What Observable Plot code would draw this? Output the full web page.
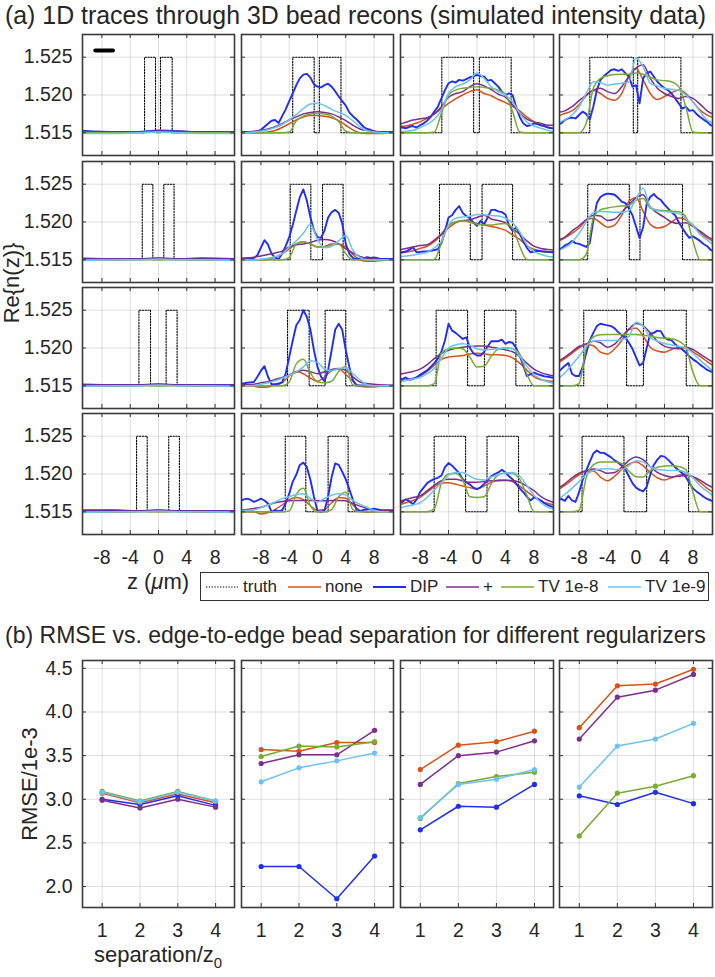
<!DOCTYPE html>
<html><head><meta charset="utf-8">
<script src="https://cdn.jsdelivr.net/npm/d3@7"></script>
<script src="https://cdn.jsdelivr.net/npm/@observablehq/plot@0.6"></script>
<style>
html,body{margin:0;padding:0;background:#fff;}
#fig{position:relative;width:715px;height:977px;overflow:hidden;font-family:"Liberation Sans",Arial,Helvetica,sans-serif;color:#262626;}
.lbl{position:absolute;white-space:nowrap;line-height:1;}
.legend{position:absolute;box-sizing:border-box;border:1px solid #333;font-size:17px;line-height:1;}
.legend .it{position:absolute;top:0;height:100%;display:flex;align-items:center;white-space:nowrap;}
.legend svg{margin-right:4px;flex:none;}
</style></head><body><div id="fig"></div>
<script>
// ---------- DATA: panel (a) ----------
const zGrid = [-11,-10,-9,-8,-7,-6,-5,-4,-3,-2,-1,0,1,2,3,4,5,6,7,8,9,10,11];
const zDip = [-11,-10.5,-10,-9.5,-9,-8.5,-8,-7.5,-7,-6.5,-6,-5.5,-5,-4.5,-4,-3.5,-3,-2.5,-2,-1.5,-1,-0.5,0,0.5,1,1.5,2,2.5,3,3.5,4,4.5,5,5.5,6,6.5,7,7.5,8,8.5,9,9.5,10,10.5,11];
const zFlat = [-11,-6,-3,0,3,6,11];
const zTicks = [-8,-4,0,4,8];
const nTicks = [1.515,1.520,1.525];
const truthLevels = [1.515, 1.525];
// bead edges [row][col] : left bead start/end, right bead start/end (um)
const truthEdges = [
  [[-1.97,-0.42,0.28,1.93],[-3.5,-0.47,0.26,3.32],[-4.94,-0.47,0.33,4.8],[-6.49,-0.38,0.24,6.31]],
  [[-2.3,-0.8,0.75,2.2],[-3.86,-0.94,0.71,3.62],[-5.27,-0.94,0.71,5.0],[-6.78,-0.94,0.56,6.54]],
  [[-2.77,-1.13,1.08,2.63],[-4.24,-1.18,1.08,4.0],[-5.74,-1.32,1.04,5.46],[-7.34,-1.32,1.04,7.06]],
  [[-3.1,-1.6,1.45,2.96],[-4.56,-1.65,1.5,4.33],[-6.02,-1.6,1.41,5.84],[-7.58,-1.69,1.5,7.39]]
];
const scaleBar = [{z:-8.94,n:1.5259},{z:-6.44,n:1.5259}];

const traceNone = [
 [[1.515,1.515,1.5151,1.5152,1.5151,1.515,1.515],
  [1.515,1.515,1.515,1.515,1.5151,1.5153,1.5157,1.5162,1.5167,1.5171,1.5173,1.5173,1.5172,1.517,1.5166,1.516,1.5154,1.515,1.5149,1.5149,1.5149,1.515,1.515],
  [1.51585,1.5159,1.51615,1.51645,1.5169,1.5175,1.5182,1.5189,1.5195,1.52,1.52045,1.5207,1.5202,1.5199,1.5194,1.519,1.5185,1.5179,1.5171,1.51645,1.516,1.5157,1.51555],
  [1.5172,1.51755,1.5179,1.5187,1.5199,1.5206,1.5202,1.51955,1.5193,1.5202,1.52245,1.5235,1.522,1.5202,1.5194,1.5198,1.5203,1.52065,1.5202,1.5191,1.518,1.51735,1.517]],
 [[1.515,1.515,1.5151,1.5151,1.5151,1.515,1.515],
  [1.515,1.515,1.515,1.515,1.51505,1.51535,1.5158,1.51645,1.5171,1.5174,1.5171,1.5167,1.51675,1.5171,1.5171,1.5167,1.5157,1.515,1.5148,1.5148,1.5149,1.515,1.515],
  [1.5159,1.516,1.5162,1.5165,1.5168,1.5174,1.5183,1.5192,1.5199,1.52015,1.52,1.5198,1.5196,1.5194,1.5192,1.5189,1.5183,1.5177,1.51685,1.5164,1.5161,1.516,1.516],
  [1.5174,1.5179,1.5185,1.5192,1.5202,1.5205,1.5199,1.5193,1.5196,1.5209,1.5227,1.5232,1.5214,1.5197,1.5192,1.5194,1.52,1.52055,1.5203,1.5196,1.5186,1.5179,1.5174]],
 [[1.515,1.515,1.5151,1.5151,1.5151,1.515,1.515],
  [1.515,1.515,1.51495,1.5148,1.51485,1.5151,1.5154,1.5163,1.5169,1.5166,1.516,1.5156,1.5162,1.517,1.5172,1.5165,1.5156,1.51495,1.51485,1.51485,1.51495,1.515,1.515],
  [1.5156,1.5158,1.516,1.5163,1.5169,1.5177,1.5185,1.5188,1.5189,1.519,1.5192,1.5193,1.51925,1.5191,1.5191,1.519,1.5187,1.518,1.5171,1.5162,1.5158,1.51565,1.5156],
  [1.518,1.5186,1.5193,1.52,1.52045,1.5203,1.51945,1.5192,1.5199,1.521,1.5224,1.5226,1.5216,1.5201,1.5196,1.51945,1.5198,1.52005,1.52005,1.5195,1.5189,1.5182,1.5176]],
 [[1.515,1.515,1.5151,1.5151,1.5151,1.515,1.515],
  [1.515,1.515,1.515,1.5147,1.5149,1.5153,1.5159,1.5166,1.5169,1.5166,1.5158,1.5152,1.5153,1.5162,1.5169,1.5168,1.5159,1.5152,1.51495,1.515,1.515,1.515,1.515],
  [1.5159,1.5162,1.5165,1.5169,1.5176,1.5183,1.5188,1.51885,1.51865,1.5184,1.5182,1.518,1.5184,1.5189,1.5192,1.5192,1.519,1.5184,1.5177,1.517,1.5164,1.5161,1.5159],
  [1.5179,1.5185,1.5192,1.5199,1.52035,1.5204,1.5196,1.5191,1.5197,1.5206,1.5213,1.5216,1.5211,1.5202,1.5195,1.5192,1.5195,1.51985,1.52,1.51965,1.5189,1.5181,1.5175]]
];

const traceDIP = [
 [[1.5153,1.5151,1.5151,1.5153,1.5152,1.5151,1.5151],
  [1.5151,1.5151,1.5151,1.5151,1.5151,1.5152,1.5154,1.5158,1.5162,1.5166,1.5167,1.5163,1.5172,1.5181,1.5192,1.5202,1.5213,1.5222,1.5227,1.5228,1.5223,1.5214,1.5211,1.521,1.5213,1.5215,1.5211,1.5205,1.5198,1.5192,1.5186,1.5177,1.5172,1.5168,1.5163,1.5158,1.5155,1.5154,1.5152,1.5151,1.5151,1.5151,1.5151,1.5151,1.5151],
  [1.5157,1.5157,1.5156,1.5158,1.5159,1.5157,1.516,1.51625,1.5166,1.5171,1.5178,1.51845,1.51955,1.52065,1.52155,1.5218,1.52165,1.522,1.5219,1.5221,1.52235,1.52245,1.52265,1.5225,1.52245,1.5219,1.522,1.52155,1.5211,1.52045,1.52,1.5202,1.52,1.51845,1.5171,1.51625,1.5159,1.516,1.51625,1.51615,1.516,1.5159,1.5157,1.5156,1.51555],
  [1.51615,1.51625,1.5167,1.5169,1.517,1.5169,1.51735,1.5178,1.5175,1.51675,1.51845,1.52065,1.522,1.5225,1.5229,1.5233,1.5234,1.5232,1.5234,1.5229,1.52245,1.5211,1.5213,1.5189,1.5222,1.5229,1.5231,1.52245,1.52175,1.5213,1.5209,1.52065,1.5202,1.51955,1.5189,1.5182,1.51845,1.5179,1.518,1.5175,1.5171,1.51675,1.51645,1.516,1.5159]],
 [[1.5152,1.5151,1.5151,1.5152,1.5151,1.5152,1.5151],
  [1.5151,1.51515,1.5152,1.51515,1.51525,1.5156,1.5166,1.5176,1.517,1.5158,1.5153,1.5151,1.5158,1.5168,1.518,1.5196,1.5215,1.5233,1.5243,1.5228,1.5206,1.5189,1.518,1.5179,1.5189,1.5206,1.5213,1.5216,1.5212,1.5198,1.5171,1.5158,1.51525,1.5151,1.5151,1.5152,1.51535,1.51525,1.5153,1.5152,1.5151,1.5151,1.5151,1.5151,1.5151],
  [1.516,1.516,1.5161,1.51635,1.51665,1.516,1.51605,1.5161,1.5161,1.5162,1.5163,1.5164,1.5172,1.5188,1.5206,1.5209,1.5216,1.5221,1.5212,1.5208,1.5205,1.5199,1.5195,1.52015,1.5197,1.5206,1.5216,1.5216,1.5214,1.5213,1.521,1.5195,1.5188,1.5193,1.5184,1.5175,1.5166,1.516,1.5161,1.5162,1.51615,1.5161,1.51605,1.516,1.516],
  [1.5164,1.5165,1.5169,1.5171,1.5175,1.5172,1.5171,1.5169,1.5167,1.5172,1.52015,1.5225,1.5233,1.5236,1.52375,1.5237,1.5236,1.5232,1.5227,1.5225,1.5218,1.5209,1.5194,1.5179,1.5193,1.5224,1.5233,1.5237,1.5232,1.5229,1.5223,1.5218,1.5213,1.5209,1.52,1.5192,1.5185,1.5179,1.5181,1.5178,1.5175,1.5171,1.5168,1.5163,1.5161]],
 [[1.5152,1.5151,1.5151,1.5152,1.5151,1.5151,1.5151],
  [1.5152,1.5153,1.5154,1.51545,1.5155,1.5162,1.517,1.5176,1.5162,1.5152,1.5152,1.5153,1.5155,1.5166,1.5188,1.521,1.523,1.5237,1.525,1.5241,1.5224,1.5197,1.5175,1.5162,1.5156,1.5171,1.5197,1.5224,1.5232,1.5224,1.5197,1.5175,1.51575,1.51505,1.51505,1.51505,1.51505,1.51505,1.51505,1.51505,1.51505,1.51505,1.51505,1.51505,1.51505],
  [1.5159,1.5159,1.5161,1.5158,1.5159,1.5161,1.51645,1.51675,1.51705,1.5175,1.518,1.5186,1.5195,1.521,1.5232,1.5223,1.522,1.5216,1.5212,1.5214,1.52,1.5193,1.519,1.519,1.5195,1.5202,1.5209,1.5209,1.5209,1.5211,1.52055,1.5208,1.5207,1.52,1.519,1.5177,1.5163,1.5165,1.51675,1.51655,1.5164,1.51625,1.5162,1.5161,1.5161],
  [1.5168,1.5172,1.51765,1.518,1.5166,1.5163,1.5163,1.5175,1.5193,1.521,1.522,1.5229,1.5232,1.5231,1.523,1.5229,1.5226,1.5221,1.5217,1.5214,1.5207,1.5199,1.5188,1.5177,1.518,1.52,1.5219,1.522,1.5223,1.5222,1.5214,1.5211,1.521,1.5205,1.5201,1.5198,1.5194,1.5189,1.5185,1.5182,1.5178,1.51745,1.5171,1.5169,1.5167]],
 [[1.5152,1.5152,1.5151,1.5152,1.5151,1.5151,1.5151],
  [1.5165,1.5166,1.51675,1.5166,1.5163,1.5165,1.51675,1.5165,1.5161,1.515,1.5152,1.5151,1.5152,1.5161,1.5174,1.519,1.5199,1.5212,1.5215,1.5209,1.5192,1.517,1.5151,1.515,1.5152,1.517,1.5196,1.5214,1.5212,1.5203,1.5193,1.518,1.5166,1.5153,1.5151,1.51525,1.5153,1.51535,1.5154,1.5153,1.5152,1.5152,1.5152,1.5152,1.5152],
  [1.5162,1.5163,1.51665,1.5164,1.516,1.5166,1.5176,1.5182,1.5188,1.5191,1.51935,1.5195,1.5198,1.5209,1.52145,1.5211,1.5206,1.5201,1.5193,1.5189,1.5186,1.5182,1.518,1.51825,1.5187,1.5192,1.5197,1.52,1.5202,1.52055,1.5202,1.5197,1.5193,1.5187,1.5181,1.5176,1.517,1.5165,1.5169,1.51675,1.5165,1.5161,1.5159,1.5157,1.5156],
  [1.5166,1.5167,1.51645,1.5171,1.5165,1.5163,1.5176,1.5192,1.52045,1.5216,1.5227,1.5231,1.5228,1.5228,1.5225,1.5222,1.5218,1.5215,1.5211,1.5206,1.5197,1.5188,1.5182,1.5179,1.5177,1.5183,1.5199,1.5212,1.5219,1.5224,1.5223,1.5219,1.5214,1.5209,1.5205,1.5201,1.5196,1.5188,1.5181,1.5177,1.51735,1.517,1.5167,1.5165,1.5164]]
];

const tracePlus = [
 [[1.5151,1.5151,1.5151,1.5152,1.5152,1.5151,1.5151],
  [1.5151,1.5151,1.5152,1.5153,1.5155,1.5158,1.5162,1.5167,1.5171,1.5175,1.5177,1.5178,1.5177,1.5175,1.5171,1.5166,1.516,1.5155,1.5153,1.5152,1.5151,1.5151,1.5151],
  [1.5161,1.5164,1.5167,1.51685,1.517,1.5175,1.51845,1.5197,1.5202,1.52045,1.5211,1.5215,1.5212,1.5207,1.5201,1.5197,1.5187,1.5176,1.5168,1.51645,1.51625,1.516,1.516],
  [1.5177,1.5179,1.51845,1.51925,1.52,1.52065,1.5209,1.52045,1.5202,1.5211,1.52245,1.52355,1.524,1.5222,1.5209,1.5202,1.5198,1.51955,1.5198,1.51955,1.5188,1.5179,1.5174]],
 [[1.5151,1.5151,1.5151,1.5152,1.5151,1.5151,1.5151],
  [1.5152,1.51525,1.51535,1.5155,1.5157,1.5159,1.51615,1.5167,1.517,1.5171,1.5173,1.5176,1.5177,1.51755,1.5171,1.51645,1.5159,1.51545,1.5152,1.5151,1.515,1.515,1.515],
  [1.5163,1.5165,1.5167,1.5169,1.517,1.5176,1.5184,1.5196,1.52,1.5202,1.5203,1.5206,1.5209,1.5204,1.5202,1.5199,1.5191,1.5184,1.5175,1.5168,1.5165,1.51635,1.5163],
  [1.5176,1.518,1.5188,1.5195,1.5203,1.5209,1.5208,1.5202,1.5204,1.5213,1.5223,1.5232,1.5236,1.522,1.5212,1.5206,1.52,1.5198,1.5199,1.5194,1.5188,1.5181,1.5176]],
 [[1.5151,1.5151,1.5151,1.5152,1.5151,1.5151,1.5151],
  [1.5151,1.51515,1.5152,1.5154,1.51555,1.51585,1.5161,1.51645,1.5168,1.51705,1.51685,1.5166,1.51685,1.51715,1.5173,1.51705,1.5162,1.5155,1.5153,1.5152,1.5151,1.51505,1.51505],
  [1.5165,1.5167,1.5169,1.5172,1.5178,1.5186,1.5193,1.5197,1.51995,1.5201,1.5202,1.52025,1.52025,1.5201,1.51995,1.51975,1.5195,1.5189,1.518,1.5172,1.51675,1.51645,1.5163],
  [1.5182,1.5188,1.5195,1.5202,1.52055,1.5209,1.5207,1.5201,1.5205,1.5215,1.5225,1.52325,1.52295,1.522,1.5209,1.52025,1.52,1.5199,1.5201,1.5198,1.5192,1.5186,1.518]],
 [[1.5151,1.5151,1.5151,1.5152,1.5151,1.5151,1.5151],
  [1.5152,1.5153,1.51545,1.5156,1.5159,1.5162,1.51635,1.51645,1.5165,1.5165,1.5165,1.51645,1.51645,1.5165,1.5165,1.51645,1.5161,1.51575,1.51545,1.5152,1.51515,1.5151,1.5151],
  [1.5164,1.5166,1.5169,1.5171,1.5178,1.5185,1.5191,1.5193,1.5193,1.5191,1.5189,1.5189,1.519,1.5191,1.5191,1.51915,1.51915,1.5189,1.5184,1.5178,1.517,1.5165,1.5162],
  [1.5181,1.5187,1.5195,1.5201,1.52045,1.52065,1.52045,1.5201,1.5202,1.5209,1.5218,1.52225,1.5219,1.521,1.5202,1.5198,1.5196,1.5197,1.5198,1.5196,1.5192,1.5186,1.5181]]
];

const traceTV8 = [
 [[1.515,1.515,1.515,1.5151,1.515,1.515,1.515],
  [1.515,1.515,1.515,1.515,1.515,1.515,1.515,1.5151,1.5166,1.5172,1.5175,1.5176,1.5175,1.5172,1.5165,1.5152,1.515,1.515,1.515,1.515,1.515,1.515,1.515],
  [1.515,1.515,1.515,1.515,1.515,1.5151,1.5176,1.52,1.52065,1.5209,1.521,1.5211,1.521,1.5209,1.52065,1.5201,1.5178,1.5151,1.515,1.515,1.515,1.515,1.515],
  [1.515,1.515,1.515,1.515,1.51625,1.5209,1.5222,1.52255,1.5227,1.52275,1.52275,1.5229,1.52275,1.52235,1.522,1.5219,1.52175,1.5211,1.51845,1.5151,1.515,1.515,1.515]],
 [[1.515,1.515,1.515,1.515,1.515,1.515,1.515],
  [1.515,1.515,1.515,1.515,1.515,1.515,1.515,1.5153,1.5171,1.5174,1.5171,1.5167,1.5167,1.5169,1.5171,1.5158,1.515,1.515,1.515,1.515,1.515,1.515,1.515],
  [1.515,1.515,1.515,1.515,1.515,1.51505,1.5172,1.5195,1.52,1.52015,1.52,1.5197,1.5196,1.5196,1.51975,1.5198,1.5192,1.5168,1.51505,1.515,1.515,1.515,1.515],
  [1.515,1.515,1.515,1.515,1.5157,1.5205,1.5216,1.52185,1.522,1.5221,1.5222,1.5229,1.5231,1.52185,1.5216,1.5215,1.52145,1.52135,1.5207,1.5175,1.515,1.515,1.515]],
 [[1.515,1.515,1.515,1.515,1.515,1.515,1.515],
  [1.515,1.515,1.515,1.515,1.515,1.515,1.515,1.5155,1.5179,1.5185,1.5167,1.5155,1.5154,1.5156,1.5169,1.5176,1.5151,1.515,1.515,1.515,1.515,1.515,1.515],
  [1.515,1.515,1.515,1.515,1.515,1.5153,1.5193,1.5199,1.52,1.5199,1.5188,1.5175,1.5176,1.5189,1.51985,1.52,1.5199,1.5192,1.5166,1.515,1.515,1.515,1.515],
  [1.515,1.515,1.515,1.5153,1.52,1.52145,1.52175,1.5218,1.5218,1.5218,1.5218,1.5218,1.5217,1.52155,1.5214,1.5213,1.5212,1.5209,1.5201,1.5168,1.515,1.515,1.515]],
 [[1.515,1.515,1.515,1.515,1.515,1.515,1.515],
  [1.515,1.515,1.515,1.515,1.515,1.515,1.515,1.5151,1.5173,1.5181,1.5158,1.515,1.515,1.5153,1.517,1.5176,1.5153,1.515,1.515,1.515,1.515,1.515,1.515],
  [1.515,1.515,1.515,1.515,1.515,1.5154,1.5188,1.52,1.52005,1.5192,1.517,1.5169,1.517,1.5187,1.5199,1.5201,1.52005,1.5193,1.5172,1.51505,1.515,1.515,1.515],
  [1.515,1.515,1.515,1.5152,1.5195,1.5212,1.5216,1.5216,1.5216,1.5214,1.5204,1.51965,1.5196,1.52045,1.5209,1.52105,1.5211,1.521,1.5206,1.5176,1.515,1.515,1.515]]
];

const traceTV9 = [
 [[1.5149,1.5149,1.515,1.5151,1.515,1.5149,1.5149],
  [1.515,1.515,1.5151,1.5152,1.5154,1.5157,1.5161,1.5167,1.5174,1.5182,1.5188,1.5189,1.5186,1.5181,1.5177,1.5173,1.5166,1.5158,1.5153,1.5151,1.515,1.515,1.515],
  [1.5151,1.5152,1.5153,1.5157,1.51615,1.5168,1.518,1.5202,1.5211,1.52145,1.522,1.5229,1.5222,1.5211,1.52045,1.52,1.5191,1.5176,1.51645,1.5159,1.5156,1.5153,1.5151],
  [1.5163,1.5167,1.51735,1.51845,1.5202,1.52175,1.52165,1.5213,1.52145,1.52155,1.52175,1.5249,1.52375,1.52155,1.5212,1.5209,1.52075,1.5206,1.52,1.5191,1.5178,1.5167,1.5162]],
 [[1.5149,1.515,1.515,1.5151,1.515,1.515,1.5149],
  [1.515,1.515,1.5149,1.5151,1.5152,1.5154,1.5158,1.5167,1.5175,1.5185,1.5197,1.5177,1.5166,1.5168,1.5175,1.5182,1.5163,1.5153,1.515,1.515,1.515,1.515,1.515],
  [1.5154,1.5155,1.5156,1.5158,1.516,1.5166,1.5175,1.5196,1.5205,1.52065,1.52075,1.521,1.52095,1.52085,1.5208,1.5205,1.5199,1.5187,1.517,1.5161,1.5157,1.51545,1.51535],
  [1.5162,1.5166,1.5173,1.5185,1.52,1.52125,1.5214,1.52135,1.5213,1.5213,1.5215,1.523,1.5245,1.522,1.5215,1.5214,1.5213,1.5211,1.5205,1.5195,1.5184,1.5176,1.5169]],
 [[1.5149,1.515,1.515,1.5151,1.515,1.515,1.5149],
  [1.515,1.515,1.51505,1.5152,1.5154,1.51565,1.516,1.5164,1.51685,1.5175,1.5183,1.5181,1.5172,1.517,1.5173,1.5174,1.5166,1.5158,1.51515,1.515,1.515,1.515,1.515],
  [1.5155,1.5157,1.5159,1.5161,1.5166,1.5173,1.5186,1.52,1.5204,1.52055,1.52035,1.5199,1.51975,1.5198,1.5199,1.52,1.5199,1.5189,1.5176,1.5165,1.5159,1.5155,1.5153],
  [1.5159,1.5167,1.5178,1.5189,1.5202,1.5209,1.521,1.521,1.521,1.5211,1.5215,1.5234,1.5229,1.5214,1.5209,1.5206,1.5204,1.5202,1.52,1.5193,1.5184,1.5176,1.5168]],
 [[1.5149,1.515,1.515,1.5151,1.515,1.515,1.5149],
  [1.5151,1.5152,1.51525,1.51555,1.5159,1.5163,1.51675,1.517,1.5173,1.5174,1.51675,1.5163,1.51675,1.5172,1.5174,1.5172,1.5165,1.516,1.5156,1.5152,1.515,1.515,1.515],
  [1.5155,1.5157,1.5159,1.5162,1.5169,1.5179,1.5188,1.51985,1.5202,1.5202,1.5197,1.5193,1.5192,1.5196,1.5199,1.52015,1.5202,1.5197,1.5185,1.5172,1.5162,1.5156,1.5153],
  [1.5166,1.5173,1.5181,1.519,1.5199,1.52045,1.52065,1.5207,1.5206,1.5206,1.5211,1.52175,1.5216,1.52095,1.5206,1.5205,1.52045,1.52045,1.5202,1.5195,1.51845,1.5177,1.517]]
];

// ---------- DATA: panel (b) ----------
const rmseSep = [1,2,3,4];
const sepTicks = [1,2,3,4];
const rmseTicks = [2.0,2.5,3.0,3.5,4.0,4.5];
const rmseNone = [[3.07,2.96,3.06,2.96],[3.57,3.55,3.65,3.65],[3.34,3.62,3.66,3.78],[3.82,4.30,4.32,4.49]];
const rmseDIP  = [[3.00,2.94,3.04,2.93],[2.23,2.23,1.86,2.35],[2.65,2.92,2.91,3.17],[3.04,2.94,3.08,2.95]];
const rmsePlus = [[2.99,2.90,3.00,2.91],[3.41,3.51,3.51,3.79],[3.17,3.50,3.54,3.67],[3.69,4.17,4.25,4.43]];
const rmseTV8  = [[3.09,2.98,3.09,2.98],[3.49,3.61,3.60,3.66],[2.78,3.18,3.26,3.31],[2.58,3.07,3.15,3.27]];
const rmseTV9  = [[3.08,2.97,3.08,2.98],[3.20,3.36,3.44,3.53],[2.79,3.17,3.23,3.34],[3.14,3.61,3.69,3.87]];

const seriesNames = ["truth","none","DIP","+","TV 1e-8","TV 1e-9"];
const seriesColors = ["#000000","#D95319","#1F2FF5","#7E2F8E","#77AC30","#6CC3F0"];

// ---------- LAYOUT ----------
const fig = document.getElementById("fig");
const FONT = '"Liberation Sans", Arial, Helvetica, sans-serif';
const INK = "#262626";
const colLeft = [82,241,400,559];
const colW = [152,152,153,153];
const rowTop = [34,161,287,413];
const rowH = 121;
const xDomA = [-10.75,10.75], yDomA = [1.512,1.528];
const xDomB = [0.48,4.5], yDomB = [1.76,4.59];
const bTop = 660, bH = 247;

function place(svg, left, top){
  svg.style.position = "absolute";
  svg.style.left = left + "px";
  svg.style.top = top + "px";
  fig.appendChild(svg);
}
function tickRules(xDom, yDom, xT, yT, W, H, len){
  const ty = len*(yDom[1]-yDom[0])/H, tx = len*(xDom[1]-xDom[0])/W;
  const o = {stroke:"#333", strokeWidth:1};
  return [
    Plot.ruleX(xT, {x:d=>d, y1:yDom[0], y2:yDom[0]+ty, ...o}),
    Plot.ruleX(xT, {x:d=>d, y1:yDom[1], y2:yDom[1]-ty, ...o}),
    Plot.ruleY(yT, {y:d=>d, x1:xDom[0], x2:xDom[0]+tx, ...o}),
    Plot.ruleY(yT, {y:d=>d, x1:xDom[1], x2:xDom[1]-tx, ...o})
  ];
}
const gridOpt = {stroke:"#262626", strokeOpacity:0.14, strokeWidth:1};
const pts = (vals, grid) => vals.map((n,i)=>({z:grid[i], n}));

function tracePanel(r, c){
  const W = colW[c], H = rowH;
  const ml = c===0 ? 82 : 3, mr = 3, mt = 3, mb = r===3 ? 45 : 3;
  const gS = c===0 ? zFlat : zGrid, gD = c===0 ? zFlat : zDip;
  const e = truthEdges[r][c], lo = truthLevels[0], hi = truthLevels[1];
  const truth = [[zGrid[0],lo],[e[0],lo],[e[0],hi],[e[1],hi],[e[1],lo],[e[2],lo],[e[2],hi],[e[3],hi],[e[3],lo],[zGrid[zGrid.length-1],lo]].map(([z,n])=>({z,n}));
  const smooth = (vals, col, w) => Plot.line(pts(vals, gS), {x:"z", y:"n", stroke:col, strokeWidth:w, curve:"monotone-x", clip:true});
  const marks = [
    Plot.ruleX(zTicks, {x:d=>d, ...gridOpt}),
    Plot.ruleY(nTicks, {y:d=>d, ...gridOpt}),
    Plot.line(truth, {x:"z", y:"n", stroke:seriesColors[0], strokeWidth:1.1, strokeDasharray:"1.3,1.5", clip:true}),
    smooth(traceNone[r][c], seriesColors[1], 1.5),
    Plot.line(pts(traceDIP[r][c], gD), {x:"z", y:"n", stroke:seriesColors[2], strokeWidth:1.9, curve:c===0?"monotone-x":"linear", clip:true}),
    smooth(tracePlus[r][c], seriesColors[3], 1.5),
    smooth(traceTV8[r][c], seriesColors[4], 1.5),
    smooth(traceTV9[r][c], seriesColors[5], 1.5),
    ...tickRules(xDomA, yDomA, zTicks, nTicks, W, H, 4),
    Plot.frame({stroke:"#3a3a3a", strokeWidth:1.6})
  ];
  if (r===0 && c===0) marks.push(Plot.line(scaleBar, {x:"z", y:"n", stroke:"#000", strokeWidth:4}));
  if (c===0) marks.push(Plot.axisY(nTicks, {anchor:"left", tickSize:0, tickPadding:10, tickFormat:d3.format(".3f"), label:null, fontSize:19.5}));
  if (r===3) marks.push(Plot.axisX(zTicks, {anchor:"bottom", tickSize:0, tickPadding:16, tickFormat:d=>String(d), label:null, fontSize:19.5}));
  const svg = Plot.plot({
    width: W+ml+mr, height: H+mt+mb,
    marginLeft: ml, marginRight: mr, marginTop: mt, marginBottom: mb,
    x: {domain: xDomA, axis: null},
    y: {domain: yDomA, axis: null},
    style: {background:"transparent", fontFamily:FONT, fontSize:"19.5px", color:INK},
    marks
  });
  place(svg, colLeft[c]-ml, rowTop[r]-mt);
}

function rmsePanel(c){
  const W = colW[c], H = bH;
  const ml = c===0 ? 82 : 3, mr = 3, mt = 3, mb = 42;
  const sets = [[rmseNone,1],[rmseDIP,2],[rmsePlus,3],[rmseTV8,4],[rmseTV9,5]];
  const marks = [
    Plot.ruleX(sepTicks, {x:d=>d, ...gridOpt}),
    Plot.ruleY(rmseTicks, {y:d=>d, ...gridOpt})
  ];
  for (const [arr, k] of sets){
    const d = rmseSep.map((s,i)=>({s, v:arr[c][i]}));
    marks.push(Plot.line(d, {x:"s", y:"v", stroke:seriesColors[k], strokeWidth:1.5}));
    marks.push(Plot.dot(d, {x:"s", y:"v", fill:seriesColors[k], r:2.6}));
  }
  marks.push(...tickRules(xDomB, yDomB, sepTicks, rmseTicks, W, H, 4));
  marks.push(Plot.frame({stroke:"#3a3a3a", strokeWidth:1.6}));
  marks.push(Plot.axisX(sepTicks, {anchor:"bottom", tickSize:0, tickPadding:16, tickFormat:d=>String(d), label:null, fontSize:19.5}));
  if (c===0) marks.push(Plot.axisY(rmseTicks, {anchor:"left", tickSize:0, tickPadding:10, tickFormat:d3.format(".1f"), label:null, fontSize:19.5}));
  const svg = Plot.plot({
    width: W+ml+mr, height: H+mt+mb,
    marginLeft: ml, marginRight: mr, marginTop: mt, marginBottom: mb,
    x: {domain: xDomB, axis: null},
    y: {domain: yDomB, axis: null},
    style: {background:"transparent", fontFamily:FONT, fontSize:"19.5px", color:INK},
    marks
  });
  place(svg, colLeft[c]-ml, bTop-mt);
}

for (let r=0;r<4;r++) for (let c=0;c<4;c++) tracePanel(r,c);
for (let c=0;c<4;c++) rmsePanel(c);

// ---------- TEXT ----------
function label(html, css){
  const d = document.createElement("div");
  d.className = "lbl";
  d.innerHTML = html;
  Object.assign(d.style, css);
  fig.appendChild(d);
  return d;
}
// fit a title to its width in the reference, keeping the baseline
function fitTitle(text, left, baseline, targetW){
  let size = 23;
  const d = label(text, {left:left+"px", top:"0px", fontSize:size+"px"});
  const w = d.getBoundingClientRect().width;
  if (w > 0) size = size * targetW / w;
  d.style.fontSize = size.toFixed(2) + "px";
  d.style.top = (baseline - 0.8465*size).toFixed(1) + "px";
}
fitTitle("(a) 1D traces through 3D bead recons (simulated intensity data)", 5, 24, 701);
fitTitle("(b) RMSE vs. edge-to-edge bead separation for different regularizers", 5, 643, 701);
label("Re{n(z)}", {left:"11.5px", top:"283px", fontSize:"22px", transform:"translate(-50%,-50%) rotate(-90deg)"});
label("RMSE/1e-3", {left:"30px", top:"784px", fontSize:"22px", transform:"translate(-50%,-50%) rotate(-90deg)"});
label("z (<i>μ</i>m)", {left:"158px", top:"571px", fontSize:"22px", transform:"translateX(-50%)"});
label('separation/z<span style="font-size:0.68em;position:relative;top:0.38em;">0</span>', {left:"158px", top:"944px", fontSize:"22px", transform:"translateX(-50%)"});

// legend
const leg = document.createElement("div");
leg.className = "legend";
Object.assign(leg.style, {left:"200px", top:"572px", width:"509px", height:"29px"});
const legX = [5, 87, 172, 245, 300, 407];
seriesNames.forEach((name, i) => {
  const it = document.createElement("div");
  it.className = "it";
  it.style.left = legX[i] + "px";
  const dash = i===0 ? ' stroke-dasharray="1.3,1.5"' : "";
  const w = i===0 ? 1.1 : (i===2 ? 1.9 : 1.5);
  it.innerHTML = `<svg width="33" height="10"><line x1="0" y1="5" x2="33" y2="5" stroke="${seriesColors[i]}" stroke-width="${w}"${dash}/></svg><span>${name}</span>`;
  leg.appendChild(it);
});
fig.appendChild(leg);
</script></body></html>
